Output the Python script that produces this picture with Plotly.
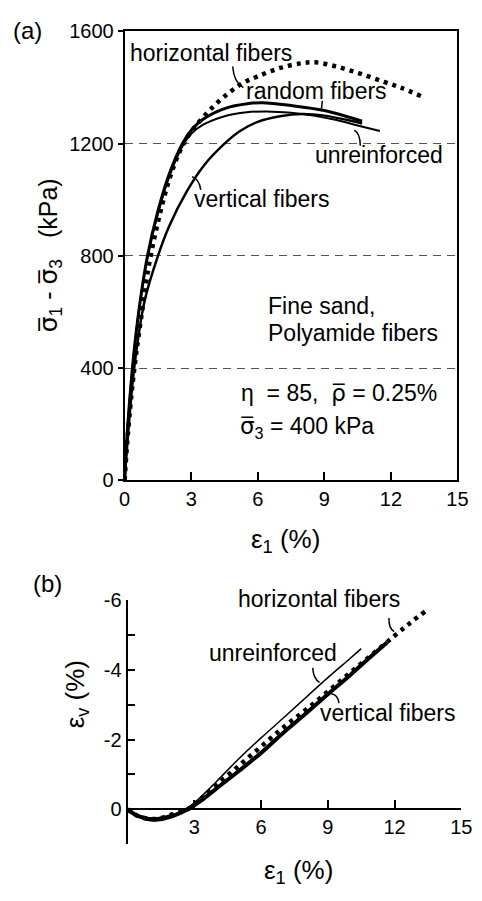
import plotly.graph_objects as go

# ---------------- data: panel (a) deviator stress vs axial strain ----------------
a_horiz_x = [0, 0.1, 0.3, 0.5, 0.8, 1.1, 1.5, 2.0, 2.5, 2.9, 3.3, 3.9, 4.6, 5.3, 6.0, 7.0, 8.0, 8.6, 9.5, 10.6, 11.7, 12.5, 13.35]
a_horiz_q = [0, 120, 300, 440, 610, 770, 920, 1070, 1175, 1232, 1273, 1325, 1375, 1415, 1440, 1470, 1487, 1490, 1476, 1450, 1420, 1398, 1370]

a_random_x = [0, 0.1, 0.35, 0.6, 1.03, 1.5, 2.0, 2.6, 3.0, 3.5, 4.5, 5.6, 6.2, 7.5, 9.0, 10.7]
a_random_q = [0, 150, 400, 580, 800, 960, 1090, 1200, 1248, 1285, 1325, 1343, 1346, 1336, 1318, 1280]

a_unrein_x = [0, 0.1, 0.35, 0.6, 1.03, 1.5, 2.0, 2.6, 3.0, 3.5, 4.5, 5.5, 6.4, 7.5, 8.5, 9.5, 10.5, 11.5]
a_unrein_q = [0, 150, 400, 580, 795, 950, 1080, 1190, 1235, 1266, 1298, 1312, 1315, 1310, 1300, 1285, 1265, 1245]

a_vert_x = [0, 0.1, 0.43, 0.9, 1.5, 2.0, 2.8, 3.6, 4.5, 5.2, 6.0, 7.0, 8.0, 9.0, 10.0, 10.7]
a_vert_q = [0, 110, 400, 640, 800, 905, 1030, 1125, 1200, 1245, 1278, 1298, 1306, 1300, 1285, 1272]

# ---------------- data: panel (b) volumetric strain vs axial strain ----------------
b_horiz_x = [0, 0.5, 1.2, 2.0, 2.7, 3.3, 4.0, 5.0, 6.0, 7.0, 8.0, 9.0, 10.0, 11.0, 12.0, 12.7, 13.4]
b_horiz_v = [0, 0.2, 0.28, 0.15, 0, -0.3, -0.7, -1.25, -1.8, -2.35, -2.85, -3.38, -3.92, -4.45, -4.98, -5.35, -5.69]

b_unrein_x = [0, 0.5, 1.2, 2.0, 2.6, 3.2, 4.0, 5.0, 6.0, 7.0, 8.0, 9.0, 10.0, 10.5]
b_unrein_v = [0, 0.17, 0.25, 0.15, 0, -0.3, -0.8, -1.45, -2.05, -2.62, -3.2, -3.78, -4.33, -4.61]

b_vert_x = [0, 0.5, 1.2, 2.0, 2.7, 3.3, 4.0, 5.0, 6.0, 7.0, 8.0, 9.0, 10.0, 11.0, 11.66]
b_vert_v = [0, 0.2, 0.3, 0.2, 0, -0.25, -0.6, -1.1, -1.62, -2.2, -2.74, -3.3, -3.85, -4.42, -4.79]

x_ticks_a = [0, 3, 6, 9, 12, 15]
y_ticks_a = [0, 400, 800, 1200, 1600]
x_ticks_b = [3, 6, 9, 12, 15]
y_ticks_b = [-6, -4, -2, 0]
y_text_b = ["-6", "-4", "-2", "0"]
y_minor_b = [-5, -3, -1, 1]

# ---------------- layout helpers ----------------
W, H = 482, 901
def PX(x):
    return x / W
def PY(y):
    return 1 - y / H

FONT = "Liberation Sans, Arial, sans-serif"
BLK = "black"
SIG = '<span style="font-family:DejaVu Sans">σ\u0305</span>'
RHO = '<span style="font-family:DejaVu Sans">ρ\u0305</span>'

fig = go.Figure()

dot = dict(color=BLK, width=4.5, dash="4px,5px")
fig.add_trace(go.Scatter(x=a_horiz_x, y=a_horiz_q, mode="lines", line=dot, line_shape="spline", xaxis="x", yaxis="y"))
fig.add_trace(go.Scatter(x=a_random_x, y=a_random_q, mode="lines", line=dict(color=BLK, width=3), line_shape="spline", xaxis="x", yaxis="y"))
fig.add_trace(go.Scatter(x=a_unrein_x, y=a_unrein_q, mode="lines", line=dict(color=BLK, width=2), line_shape="spline", xaxis="x", yaxis="y"))
fig.add_trace(go.Scatter(x=a_vert_x, y=a_vert_q, mode="lines", line=dict(color=BLK, width=2.5), line_shape="spline", xaxis="x", yaxis="y"))

fig.add_trace(go.Scatter(x=b_horiz_x, y=b_horiz_v, mode="lines", line=dot, line_shape="spline", xaxis="x2", yaxis="y2"))
fig.add_trace(go.Scatter(x=b_unrein_x, y=b_unrein_v, mode="lines", line=dict(color=BLK, width=1.5), line_shape="spline", xaxis="x2", yaxis="y2"))
fig.add_trace(go.Scatter(x=b_vert_x, y=b_vert_v, mode="lines", line=dict(color=BLK, width=4), line_shape="spline", xaxis="x2", yaxis="y2"))

tickfont = dict(family=FONT, size=20, color=BLK)

fig.update_layout(
    width=W, height=H,
    margin=dict(l=0, r=0, t=0, b=0),
    paper_bgcolor="white", plot_bgcolor="white",
    showlegend=False,
    xaxis=dict(domain=[PX(123), PX(468)], range=[0, 15], tickvals=x_ticks_a,
               ticks="inside", ticklen=8, tickwidth=2, tickcolor=BLK,
               showline=True, linewidth=2, linecolor=BLK, mirror=True,
               showgrid=False, zeroline=False, tickfont=tickfont, anchor="y"),
    yaxis=dict(domain=[PY(481), PY(21)], range=[0, 1600], tickvals=y_ticks_a,
               ticks="outside", ticklen=5, tickwidth=1.5, tickcolor=BLK,
               showline=True, linewidth=2, linecolor=BLK, mirror=True,
               showgrid=True, gridcolor="#555555", gridwidth=1, griddash="8px,6px",
               zeroline=False, tickfont=tickfont, anchor="x"),
    xaxis2=dict(domain=[PX(126), PX(472)], range=[0, 15], tickvals=x_ticks_b,
                ticks="inside", ticklen=8, tickwidth=2, tickcolor=BLK,
                showline=True, linewidth=2, linecolor=BLK,
                showgrid=False, zeroline=False, tickfont=tickfont,
                anchor="free", position=PY(818)),
    yaxis2=dict(domain=[PY(854), PY(604)], range=[1, -6], tickvals=y_ticks_b, ticktext=y_text_b,
                ticks="inside", ticklen=7, tickwidth=2, tickcolor=BLK,
                minor=dict(tickvals=y_minor_b, ticks="inside", ticklen=7, tickwidth=2,
                           tickcolor=BLK, showgrid=False),
                showline=True, linewidth=2, linecolor=BLK,
                showgrid=False, zeroline=False, tickfont=tickfont, anchor="x2"),
)

def ann(text, x, y, size=23, xanchor="center", angle=0):
    fig.add_annotation(text=text, x=PX(x), y=PY(y), xref="paper", yref="paper",
                       xanchor=xanchor, yanchor="middle", showarrow=False, textangle=angle,
                       font=dict(family=FONT, size=size, color=BLK))

# panel labels
ann("(a)", 22, 20, size=24)
ann("(b)", 43, 587, size=24)

# axis titles
ann("ε<sub>1</sub> (%)", 290, 543, size=26)
ann("ε<sub>1</sub> (%)", 303, 882, size=26)
ann(SIG + "<sub>1</sub> - " + SIG + "<sub>3</sub>\u00a0\u00a0\u00a0(kPa)", 45, 250, size=25, angle=-90)
ann("ε<sub>v</sub> (%)", 73, 700, size=26, angle=-90)

# panel (a) labels
ann("horizontal fibers", 213, 43)
ann("random fibers", 322, 82)
ann("unreinforced", 387, 148)
ann("vertical fibers", 265, 193)
ann("Fine sand,", 269, 302, xanchor="left")
ann("Polyamide fibers", 269, 330, xanchor="left")
ann("η  = 85,  " + RHO + " = 0.25%", 242, 392, xanchor="left")
ann(SIG + "<sub>3</sub> = 400 kPa", 240, 427, xanchor="left")

# panel (b) labels
ann("horizontal fibers", 324, 603)
ann("unreinforced", 277, 658)
ann("vertical fibers", 395, 720)

# leader strokes
def leader(path, xr, yr):
    fig.add_shape(type="path", path=path, xref=xr, yref=yr, line=dict(color=BLK, width=1.5))

leader("M 4.87,1475 Q 4.92,1418 5.35,1400", "x", "y")
leader("M 8.91,1353 L 8.87,1325", "x", "y")
leader("M 10.35,1248 Q 10.62,1235 10.62,1193", "x", "y")
leader("M 3.04,1082 Q 3.35,1075 3.43,1035", "x", "y")
leader("M 11.75,-5.49 Q 11.72,-5.2 11.98,-5.1", "x2", "y2")
leader("M 8.32,-4.06 Q 8.35,-3.75 8.63,-3.64", "x2", "y2")
leader("M 9.15,-3.32 Q 9.45,-3.3 9.5,-3.05", "x2", "y2")

fig.write_html("out.html")
